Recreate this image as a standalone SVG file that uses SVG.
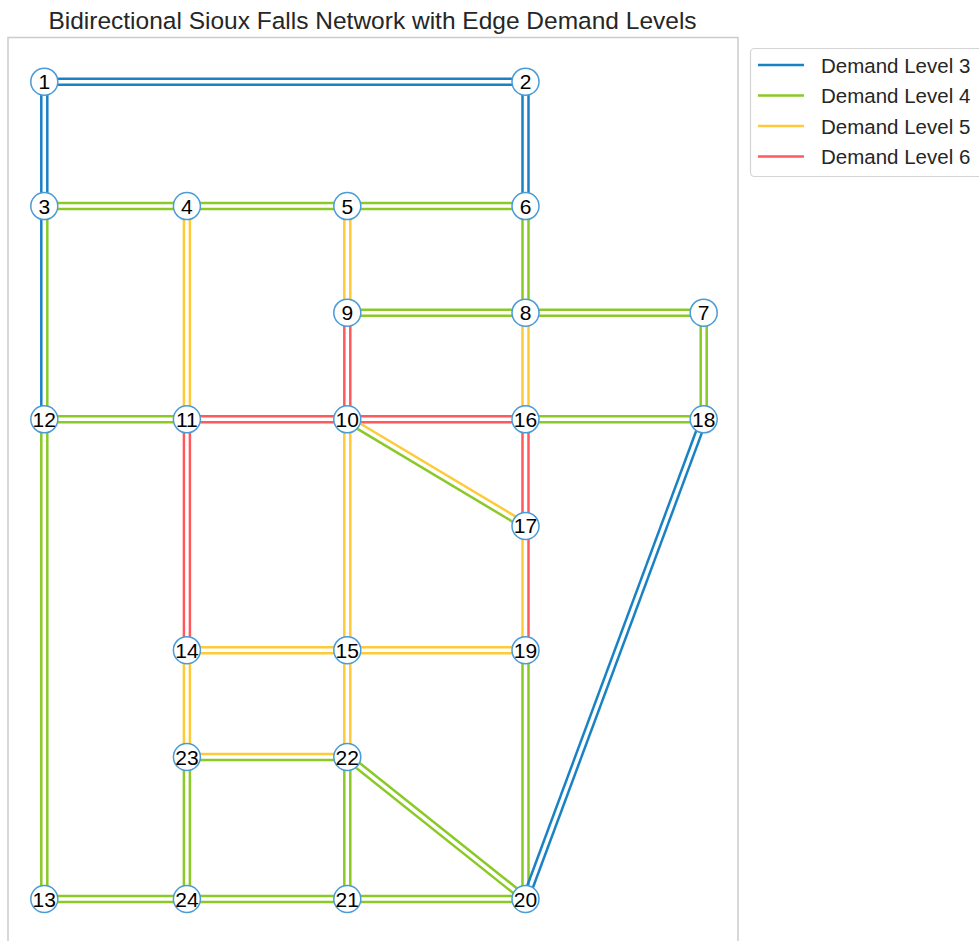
<svg xmlns="http://www.w3.org/2000/svg" width="979" height="941" viewBox="0 0 979 941">
<style>
.ln{stroke-width:2.5;fill:none}
.b{stroke:#1982C4}.g{stroke:#8AC926}.y{stroke:#FFCA3A}.r{stroke:#FF595E}
.nd circle{fill:#fff;stroke:#4a9bd6;stroke-width:1.5}
.nd text{font-family:"Liberation Sans",Arial,sans-serif;font-size:21px;fill:#000;text-anchor:middle}
.lt{font-family:"Liberation Sans",Arial,sans-serif;font-size:20.5px;fill:#262626}
</style>
<rect x="0" y="0" width="979" height="941" fill="#fff"/>
<text x="372.5" y="29" font-family="Liberation Sans, Arial, sans-serif" font-size="24.5" fill="#262626" text-anchor="middle">Bidirectional Sioux Falls Network with Edge Demand Levels</text>
<rect x="8" y="37.5" width="730" height="912" fill="none" stroke="#cccccc" stroke-width="1.5"/>
<g id="edges" class="ln">
<line class="b" x1="44.3" y1="78.7" x2="525.5" y2="78.7"/><line class="b" x1="44.3" y1="84.7" x2="525.5" y2="84.7"/>
<line class="b" x1="41.3" y1="81.7" x2="41.3" y2="206.1"/><line class="b" x1="47.3" y1="81.7" x2="47.3" y2="206.1"/>
<line class="b" x1="522.5" y1="81.7" x2="522.5" y2="206.1"/><line class="b" x1="528.5" y1="81.7" x2="528.5" y2="206.1"/>
<line class="g" x1="44.3" y1="203.1" x2="525.5" y2="203.1"/><line class="g" x1="44.3" y1="209.1" x2="525.5" y2="209.1"/>
<line class="b" x1="41.3" y1="206.1" x2="41.3" y2="419.3"/><line class="g" x1="47.3" y1="206.1" x2="47.3" y2="419.3"/>
<line class="y" x1="183.9" y1="206.1" x2="183.9" y2="419.3"/><line class="y" x1="189.9" y1="206.1" x2="189.9" y2="419.3"/>
<line class="y" x1="344.3" y1="206.1" x2="344.3" y2="312.7"/><line class="y" x1="350.3" y1="206.1" x2="350.3" y2="312.7"/>
<line class="g" x1="522.5" y1="206.1" x2="522.5" y2="312.7"/><line class="g" x1="528.5" y1="206.1" x2="528.5" y2="312.7"/>
<line class="g" x1="347.3" y1="309.7" x2="703.7" y2="309.7"/><line class="g" x1="347.3" y1="315.7" x2="703.7" y2="315.7"/>
<line class="y" x1="522.5" y1="312.7" x2="522.5" y2="419.3"/><line class="y" x1="528.5" y1="312.7" x2="528.5" y2="419.3"/>
<line class="g" x1="700.7" y1="312.7" x2="700.7" y2="419.3"/><line class="g" x1="706.7" y1="312.7" x2="706.7" y2="419.3"/>
<line class="r" x1="344.3" y1="312.7" x2="344.3" y2="419.3"/><line class="r" x1="350.3" y1="312.7" x2="350.3" y2="419.3"/>
<line class="g" x1="44.3" y1="416.3" x2="186.9" y2="416.3"/><line class="g" x1="44.3" y1="422.3" x2="186.9" y2="422.3"/>
<line class="r" x1="186.9" y1="416.3" x2="525.5" y2="416.3"/><line class="r" x1="186.9" y1="422.3" x2="525.5" y2="422.3"/>
<line class="g" x1="525.5" y1="416.3" x2="703.7" y2="416.3"/><line class="g" x1="525.5" y1="422.3" x2="703.7" y2="422.3"/>
<line class="y" x1="348.84" y1="416.73" x2="527.04" y2="523.33"/><line class="g" x1="345.76" y1="421.88" x2="523.96" y2="528.48"/>
<line class="r" x1="522.5" y1="419.3" x2="522.5" y2="525.9"/><line class="r" x1="528.5" y1="419.3" x2="528.5" y2="525.9"/>
<line class="y" x1="522.5" y1="525.9" x2="522.5" y2="650.2"/><line class="r" x1="528.5" y1="525.9" x2="528.5" y2="650.2"/>
<line class="y" x1="344.3" y1="419.3" x2="344.3" y2="650.2"/><line class="y" x1="350.3" y1="419.3" x2="350.3" y2="650.2"/>
<line class="r" x1="183.9" y1="419.3" x2="183.9" y2="650.2"/><line class="r" x1="189.9" y1="419.3" x2="189.9" y2="650.2"/>
<line class="y" x1="186.9" y1="647.2" x2="525.5" y2="647.2"/><line class="y" x1="186.9" y1="653.2" x2="525.5" y2="653.2"/>
<line class="y" x1="183.9" y1="650.2" x2="183.9" y2="757"/><line class="y" x1="189.9" y1="650.2" x2="189.9" y2="757"/>
<line class="y" x1="344.3" y1="650.2" x2="344.3" y2="757"/><line class="y" x1="350.3" y1="650.2" x2="350.3" y2="757"/>
<line class="g" x1="522.5" y1="650.2" x2="522.5" y2="899"/><line class="g" x1="528.5" y1="650.2" x2="528.5" y2="899"/>
<line class="y" x1="186.9" y1="754" x2="347.3" y2="754"/><line class="g" x1="186.9" y1="760" x2="347.3" y2="760"/>
<line class="g" x1="183.9" y1="757" x2="183.9" y2="899"/><line class="g" x1="189.9" y1="757" x2="189.9" y2="899"/>
<line class="g" x1="344.3" y1="757" x2="344.3" y2="899"/><line class="g" x1="350.3" y1="757" x2="350.3" y2="899"/>
<line class="g" x1="349.17" y1="754.65" x2="527.37" y2="896.65"/><line class="g" x1="345.43" y1="759.35" x2="523.63" y2="901.35"/>
<line class="b" x1="706.51" y1="420.34" x2="528.31" y2="900.04"/><line class="b" x1="700.89" y1="418.26" x2="522.69" y2="897.96"/>
<line class="g" x1="41.3" y1="419.3" x2="41.3" y2="899"/><line class="g" x1="47.3" y1="419.3" x2="47.3" y2="899"/>
<line class="g" x1="44.3" y1="896" x2="525.5" y2="896"/><line class="g" x1="44.3" y1="902" x2="525.5" y2="902"/>
</g>
<g id="n1" class="nd"><circle cx="44.3" cy="81.7" r="13.5"/><text x="44.3" y="89.2">1</text></g>
<g id="n2" class="nd"><circle cx="525.5" cy="81.7" r="13.5"/><text x="525.5" y="89.2">2</text></g>
<g id="n3" class="nd"><circle cx="44.3" cy="206.1" r="13.5"/><text x="44.3" y="213.6">3</text></g>
<g id="n4" class="nd"><circle cx="186.9" cy="206.1" r="13.5"/><text x="186.9" y="213.6">4</text></g>
<g id="n5" class="nd"><circle cx="347.3" cy="206.1" r="13.5"/><text x="347.3" y="213.6">5</text></g>
<g id="n6" class="nd"><circle cx="525.5" cy="206.1" r="13.5"/><text x="525.5" y="213.6">6</text></g>
<g id="n7" class="nd"><circle cx="703.7" cy="312.7" r="13.5"/><text x="703.7" y="320.2">7</text></g>
<g id="n8" class="nd"><circle cx="525.5" cy="312.7" r="13.5"/><text x="525.5" y="320.2">8</text></g>
<g id="n9" class="nd"><circle cx="347.3" cy="312.7" r="13.5"/><text x="347.3" y="320.2">9</text></g>
<g id="n10" class="nd"><circle cx="347.3" cy="419.3" r="13.5"/><text x="347.3" y="426.8">10</text></g>
<g id="n11" class="nd"><circle cx="186.9" cy="419.3" r="13.5"/><text x="186.9" y="426.8">11</text></g>
<g id="n12" class="nd"><circle cx="44.3" cy="419.3" r="13.5"/><text x="44.3" y="426.8">12</text></g>
<g id="n13" class="nd"><circle cx="44.3" cy="899" r="13.5"/><text x="44.3" y="906.5">13</text></g>
<g id="n14" class="nd"><circle cx="186.9" cy="650.2" r="13.5"/><text x="186.9" y="657.7">14</text></g>
<g id="n15" class="nd"><circle cx="347.3" cy="650.2" r="13.5"/><text x="347.3" y="657.7">15</text></g>
<g id="n16" class="nd"><circle cx="525.5" cy="419.3" r="13.5"/><text x="525.5" y="426.8">16</text></g>
<g id="n17" class="nd"><circle cx="525.5" cy="525.9" r="13.5"/><text x="525.5" y="533.4">17</text></g>
<g id="n18" class="nd"><circle cx="703.7" cy="419.3" r="13.5"/><text x="703.7" y="426.8">18</text></g>
<g id="n19" class="nd"><circle cx="525.5" cy="650.2" r="13.5"/><text x="525.5" y="657.7">19</text></g>
<g id="n20" class="nd"><circle cx="525.5" cy="899" r="13.5"/><text x="525.5" y="906.5">20</text></g>
<g id="n21" class="nd"><circle cx="347.3" cy="899" r="13.5"/><text x="347.3" y="906.5">21</text></g>
<g id="n22" class="nd"><circle cx="347.3" cy="757" r="13.5"/><text x="347.3" y="764.5">22</text></g>
<g id="n23" class="nd"><circle cx="186.9" cy="757" r="13.5"/><text x="186.9" y="764.5">23</text></g>
<g id="n24" class="nd"><circle cx="186.9" cy="899" r="13.5"/><text x="186.9" y="906.5">24</text></g>
<g id="legend">
<rect x="750.5" y="48.5" width="240" height="128" rx="4" fill="#fff" stroke="#d4d4d4" stroke-width="1.2"/>
<line class="ln b" x1="758" y1="65" x2="804" y2="65" stroke-width="3"/>
<line class="ln g" x1="758" y1="95.5" x2="804" y2="95.5" stroke-width="3"/>
<line class="ln y" x1="758" y1="126" x2="804" y2="126" stroke-width="3"/>
<line class="ln r" x1="758" y1="156.5" x2="804" y2="156.5" stroke-width="3"/>
<text class="lt" x="821" y="72.5">Demand Level 3</text>
<text class="lt" x="821" y="103">Demand Level 4</text>
<text class="lt" x="821" y="133.5">Demand Level 5</text>
<text class="lt" x="821" y="164">Demand Level 6</text>
</g>
</svg>
